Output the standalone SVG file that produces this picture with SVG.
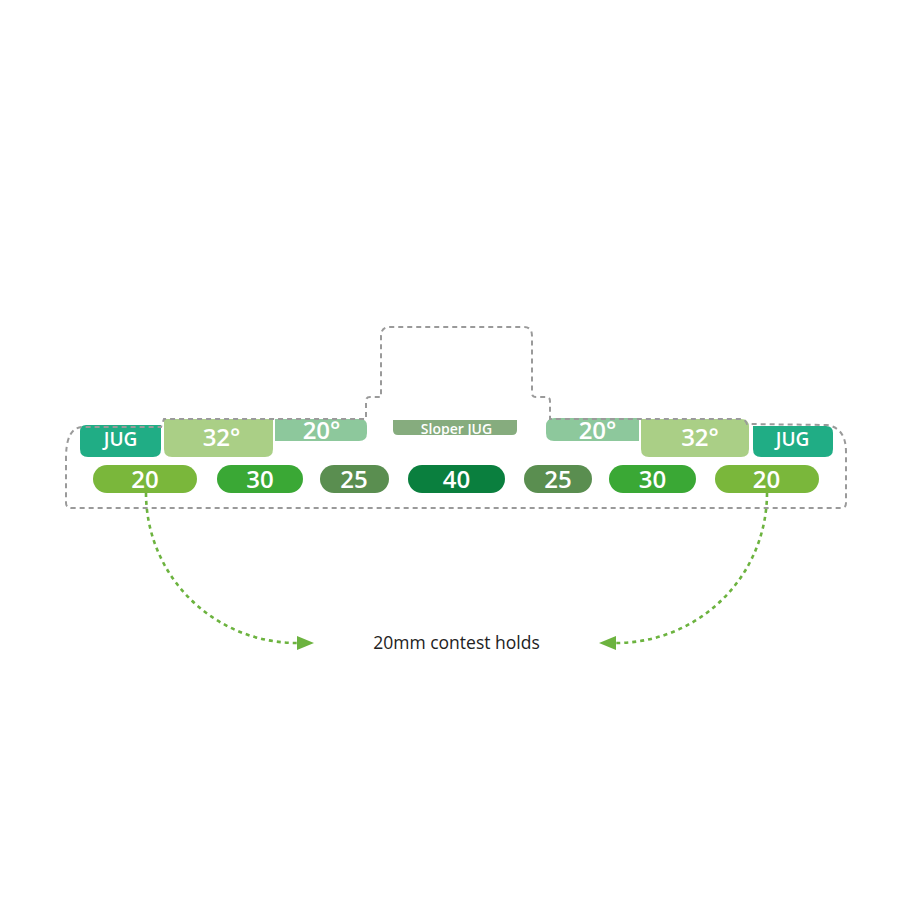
<svg xmlns="http://www.w3.org/2000/svg" width="914" height="915" viewBox="0 0 914 915">
<defs>
<style>
.lbl{fill:#fff;font-family:"Open Sans","Noto Sans",sans-serif;font-weight:600;text-anchor:middle}
.num{font-size:24px}
.deg{font-size:24px}
.jug{font-size:19px}
.outline{fill:none;stroke:#9a9a9a;stroke-width:2;stroke-dasharray:5 4}
.conn{fill:none;stroke:#6cb33f;stroke-width:2.6;stroke-dasharray:4 4}
</style>
<marker id="arr" markerWidth="18" markerHeight="14" refX="0" refY="7" orient="auto" markerUnits="userSpaceOnUse">
<path d="M0,0 L17,7 L0,14 Z" fill="#6cb33f"/>
</marker>
</defs>
<rect width="914" height="915" fill="#fff"/>
<g id="jug-left"><path d="M86,425 L161,425 L161,449 Q161,457 153,457 L88,457 Q80,457 80,449 L80,431 Q80,425 86,425 Z" fill="#20ad85"/><text class="lbl jug" x="120.5" y="446">JUG</text></g>
<g id="deg32-left"><path d="M164,419 L273,419 L273,449 Q273,457 265,457 L172,457 Q164,457 164,449 Z" fill="#aacf86"/><text class="lbl deg" x="221.5" y="446">32°</text></g>
<g id="deg20-left"><path d="M275,419 L360,419 Q367,419 367,426 L367,433 Q367,441 359,441 L275,441 Z" fill="#8dc89c"/><text class="lbl deg" x="321.5" y="439">20°</text></g>
<g id="sloper-jug"><path d="M393,420 L517,420 L517,430 Q517,435 512,435 L398,435 Q393,435 393,430 Z" fill="#86ac7e"/><text class="lbl" x="456.5" y="433.5" font-size="14">Sloper JUG</text></g>
<g id="deg20-right"><path d="M639,418 L555,418 Q546,418 546,426 L546,433 Q546,441 554,441 L639,441 Z" fill="#8dc89c"/><text class="lbl deg" x="597.5" y="439">20°</text></g>
<g id="deg32-right"><path d="M641,419 L741,419 Q749,419 749,427 L749,449 Q749,457 741,457 L649,457 Q641,457 641,449 Z" fill="#aacf86"/><text class="lbl deg" x="700" y="445.5">32°</text></g>
<g id="jug-right"><path d="M753,426 L826,426 Q833,426 833,433 L833,449 Q833,457 825,457 L761,457 Q753,457 753,449 Z" fill="#20ad85"/><text class="lbl jug" x="792.5" y="445.5">JUG</text></g>
<g id="hold-20-left"><rect x="93" y="465" width="104" height="28" rx="14" fill="#7ab73b"/><text class="lbl num" x="145" y="487.5">20</text></g>
<g id="hold-30-left"><rect x="217" y="465" width="86" height="28" rx="14" fill="#3aa835"/><text class="lbl num" x="260" y="487.5">30</text></g>
<g id="hold-25-left"><rect x="320" y="465" width="69" height="28" rx="14" fill="#5a8e50"/><text class="lbl num" x="354" y="487.5">25</text></g>
<g id="hold-40"><rect x="408" y="465" width="97" height="28" rx="14" fill="#0a7f3e"/><text class="lbl num" x="456.5" y="487.5">40</text></g>
<g id="hold-25-right"><rect x="524" y="465" width="68" height="28" rx="14" fill="#5a8e50"/><text class="lbl num" x="558" y="487.5">25</text></g>
<g id="hold-30-right"><rect x="609" y="465" width="87" height="28" rx="14" fill="#3aa835"/><text class="lbl num" x="652.5" y="487.5">30</text></g>
<g id="hold-20-right"><rect x="715" y="465" width="104" height="28" rx="14" fill="#7ab73b"/><text class="lbl num" x="766.5" y="487.5">20</text></g>
<g id="board-outline"><path class="outline" d="M66,470 L66,458 Q66,428 82,427 L161,427 L164,419 L366,419 L366,401 Q366,397 370,397 L381,397 L381,336 Q381,327 390,327 L524,327 Q532,327 532,336 L532,393 Q532,397 536,397 L546,397 Q550,397 550,401 L550,419 L741,419 Q745,419 747,424 L827,425 Q846,428 846,452 L846,503 Q846,508 841,508 L72,508 Q66,508 66,503 Z"/></g>
<g id="connectors">
<path class="conn" d="M146,493 A151,150 0 0 0 297,643" marker-end="url(#arr)"/>
<path class="conn" d="M767,493 A151,150 0 0 1 616,643" marker-end="url(#arr)"/>
</g>
<g id="caption"><text x="456.5" y="649" font-family="'Open Sans','Noto Sans',sans-serif" font-size="17.5" fill="#222" text-anchor="middle">20mm contest holds</text></g>
</svg>
